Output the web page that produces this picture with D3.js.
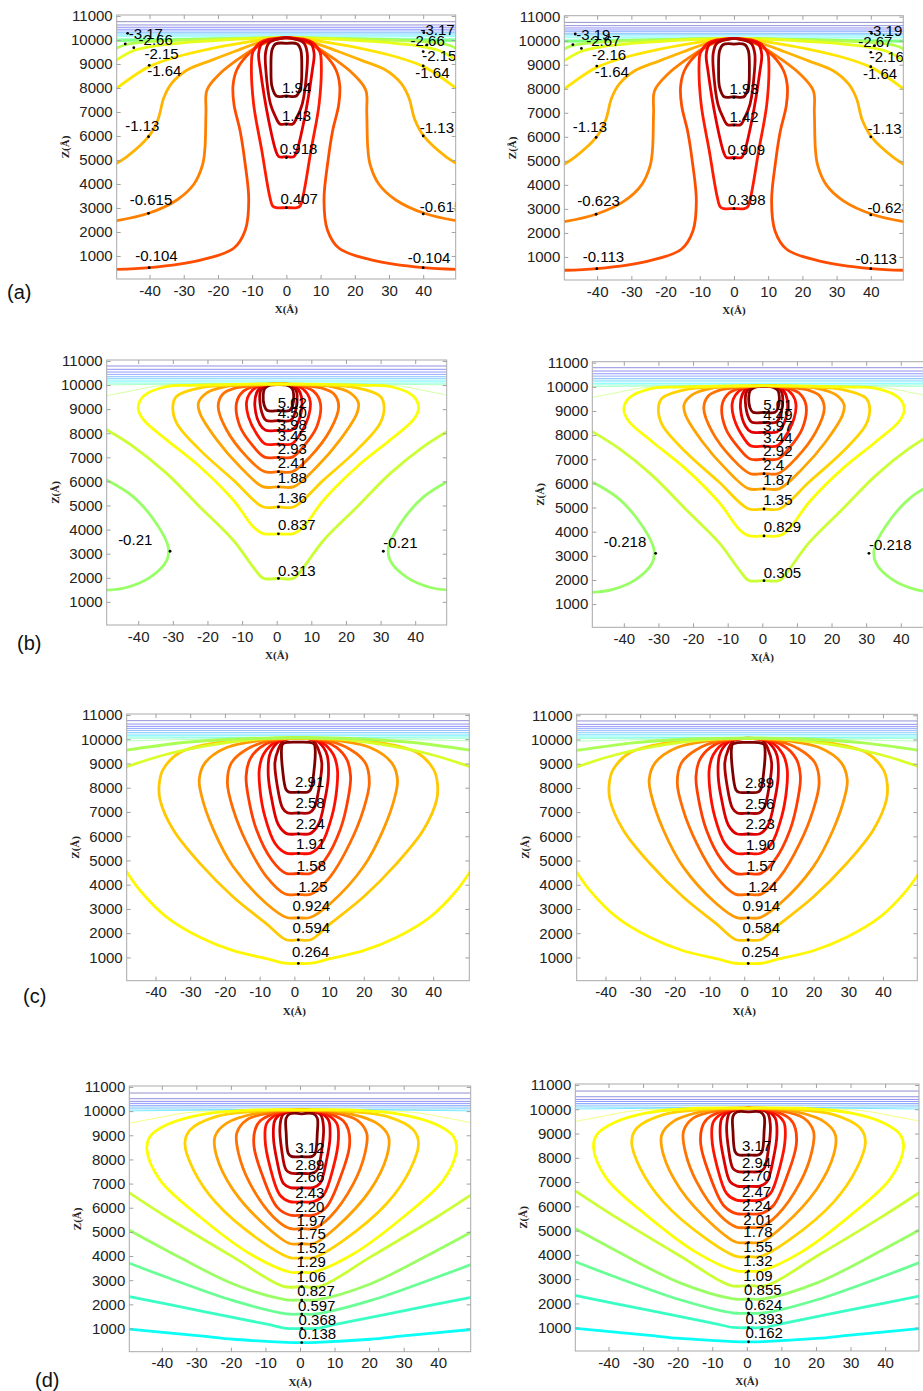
<!DOCTYPE html>
<html><head><meta charset="utf-8">
<script src="https://cdn.jsdelivr.net/npm/d3@7"></script>
<style>body{margin:0;background:#fff}svg{display:block}</style>
</head><body>
<svg id="fig" width="923" height="1391"></svg>
<script>
// ---------------- DATA ----------------
const X_TICKS = [-40,-30,-20,-10,0,10,20,30,40];
const Z_TICKS = [1000,2000,3000,4000,5000,6000,7000,8000,9000,10000,11000];
const ROW_TAGS = ["(a)","(b)","(c)","(d)"];
const Z_DOMAIN = [40, 11040];

// colour range of contour levels per row (min level, max level)
const LEVEL_RANGE_A = [-8.27, 1.94];
const LEVEL_RANGE_B = [-6.0, 5.02];
const LEVEL_RANGE_C = [-4.3, 2.91];
const LEVEL_RANGE_D = [-1.72, 3.12];
// x of symmetry axis of the contour family per row
const CENTER_A = 0, CENTER_B = 0.5, CENTER_C = 1.15, CENTER_D = 0.5;

// contours: level + left-half points [x, z] (edge/apex -> middle)
const CONTOURS_A = [
 {v:-3.17, pts:[[-49.6,9975],[-35,10005],[-20,10045],[-8,10080],[0,10100]]},
 {v:-2.66, pts:[[-49.6,9654],[-47.1,9800],[-40,9930],[-25,10020],[-10,10075],[0,10100]]},
 {v:-2.15, pts:[[-49.6,9167],[-44.6,9560],[-38,9760],[-25,9940],[-12,10050],[0,10100]]},
 {v:-1.64, pts:[[-49.6,7990],[-44,8560],[-40,8900],[-32,9300],[-22,9640],[-12,9900],[-5,10050],[0,10100]]},
 {v:-1.13, pts:[[-49.6,4860],[-46.6,5140],[-40.3,5972],[-37.5,6700],[-35.8,7600],[-33.5,8200],[-29,8750],[-22,9150],[-15,9530],[-8.6,9861],[-3,10050],[0,10100]]},
 {v:-0.615, pts:[[-49.6,2470],[-40.3,2778],[-32,3333],[-27,4000],[-24.5,4800],[-23.8,5500],[-23.5,7000],[-23.2,7917],[-19.3,8611],[-14.4,9167],[-7.6,9792],[-3,10030],[0,10100]]},
 {v:-0.104, pts:[[-49.6,445],[-40,514],[-25.1,830],[-15.4,1320],[-12,2083],[-11,3333],[-12.2,5000],[-13.5,6200],[-15.3,7300],[-15.6,8100],[-14.5,8750],[-11.5,9350],[-7,9850],[-2.5,10060],[0,10100]]},
 {v:0.407, pts:[[0,10100],[-5,10030],[-7.6,9900],[-9.8,9500],[-10.2,9027],[-9.6,7361],[-7.2,5400],[-4.9,3500],[-4.0,3080],[-3.0,3013],[0,3013]]},
 {v:0.918, pts:[[0,10100],[-4.5,10000],[-7.1,9861],[-8.1,9444],[-7.6,8750],[-5.2,6666],[-3.0,5347],[-2.2,5138],[0,5138]]},
 {v:1.43, pts:[[0,10100],[-3.5,10000],[-5.2,9861],[-6.1,9444],[-6.0,8750],[-4.7,7361],[-3.2,6805],[-1.9,6500],[0,6500]]},
 {v:1.94, pts:[[0,9861],[-3.2,9833],[-4.2,9583],[-4.5,8750],[-4.2,8055],[-2.9,7667],[0,7667]]}
];
const CONTOURS_B = [
 {v:5.02, pts:[[0.5,10020],[-2.0,9990],[-3.5,9850],[-3.9,9600],[-3.6,9150],[-2.7,8945],[0.5,8938]]},
 {v:4.50, pts:[[0.5,10050],[-3.2,9990],[-4.6,9780],[-4.9,9398],[-3.9,8702],[-3.0,8528],[0.5,8520]]},
 {v:3.98, pts:[[0.5,10050],[-4.2,9975],[-5.8,9676],[-6.3,9120],[-4.8,8353],[-3.2,8125],[0.5,8117]]},
 {v:3.45, pts:[[0.5,10050],[-5.2,9960],[-7.8,9650],[-8.7,9300],[-8.2,8702],[-5.3,7866],[-3.3,7553],[0.5,7545]]},
 {v:2.93, pts:[[0.5,10050],[-6.2,9950],[-9.6,9746],[-11.6,9259],[-10.6,8284],[-6.7,7448],[-3.5,7010],[0.5,7002]]},
 {v:2.41, pts:[[0.5,10050],[-7.5,9960],[-12.5,9850],[-15.6,9620],[-16.9,9120],[-14.5,8144],[-8.7,7030],[-3.6,6411],[0.5,6403]]},
 {v:1.88, pts:[[0.5,10050],[-9,9995],[-14.5,9950],[-20.2,9676],[-22.6,9259],[-22.2,8841],[-17.3,7726],[-10.6,6612],[-4,5784],[0.5,5776]]},
 {v:1.36, pts:[[0.5,10050],[-10,10015],[-22.2,9885],[-28.9,9537],[-30,9120],[-28.9,8423],[-22.2,7309],[-12.5,6055],[-4,4948],[0.5,4940]]},
 {v:0.837, pts:[[0.5,10050],[-12,10030],[-24,9990],[-31.8,9940],[-38.5,9537],[-40,9050],[-38.5,8562],[-31.8,7726],[-22.2,6612],[-12.5,5219],[-6.7,4104],[-3.9,3834],[0.5,3826]]},
 {v:0.313, pts:[[-49.1,8144],[-41.4,7448],[-31.8,6333],[-22.2,4940],[-12.5,3547],[-6.3,2350],[-3.9,1981],[0.5,1973]]}
];
const CONTOURS_C = [
 {v:2.91, pts:[[1.15,9880],[-2.0,9870],[-3.4,9800],[-3.7,9587],[-3.4,8756],[-2.4,7925],[-1.5,7820],[1.15,7815]]},
 {v:2.58, pts:[[1.15,10050],[-3,9960],[-4.6,9587],[-5.6,9033],[-4.9,8064],[-3.4,7164],[-2,6966],[1.15,6956]]},
 {v:2.24, pts:[[1.15,10050],[-4,9950],[-6.1,9657],[-7.2,9310],[-7.5,8479],[-6.5,7510],[-4.6,6471],[-2.2,6107],[1.15,6097]]},
 {v:1.91, pts:[[1.15,10050],[-5,9930],[-8.9,9380],[-10.1,8756],[-9.9,7925],[-8.5,6817],[-5.6,5709],[-2.4,5304],[1.15,5294]]},
 {v:1.58, pts:[[1.15,10050],[-6,9930],[-9.9,9657],[-12.8,9172],[-13.9,8479],[-13.3,7648],[-10.9,6263],[-6.5,5017],[-2.5,4473],[1.15,4463]]},
 {v:1.25, pts:[[1.15,10050],[-7,9950],[-13.7,9587],[-18.1,9033],[-19.3,8202],[-17.6,7094],[-13.7,5709],[-8,4324],[-2.6,3614],[1.15,3604]]},
 {v:0.924, pts:[[1.15,10050],[-8,9980],[-19.5,9657],[-25.7,9033],[-27.4,8341],[-26.7,7648],[-23.3,6263],[-17.6,4740],[-8,3216],[-2.2,2645],[1.15,2635]]},
 {v:0.594, pts:[[1.15,10050],[-10,10000],[-22.4,9864],[-33,9449],[-37.8,8756],[-38.9,8202],[-38.7,7510],[-34.9,6263],[-27.2,4878],[-17.6,3493],[-8,2385],[-2.4,1730],[1.15,1720]]},
 {v:0.264, pts:[[-48.3,4532],[-44.5,3770],[-36.8,2662],[-27.2,1831],[-17.6,1277],[-8,950],[-2.7,761],[1.15,751]]},
 {v:-0.066, pts:[[-48.3,8867],[-36.8,9380],[-22.4,9795],[-10,10010],[1.15,10060]]},
 {v:-0.396, pts:[[-48.3,9546],[-32,9864],[-15,10020],[1.15,10060]]}
];
const CONTOURS_D = [
 {v:3.12, pts:[[0.5,9890],[-2.9,9890],[-4,9710],[-4,9086],[-3.4,8254],[-2.5,8125],[0.5,8115]]},
 {v:2.89, pts:[[0.5,10050],[-3.5,9960],[-5,9849],[-5.8,9363],[-5.3,8392],[-4,7560],[-2.6,7432],[0.5,7422]]},
 {v:2.66, pts:[[0.5,10050],[-4.5,9950],[-7.2,9641],[-7.7,8947],[-6.7,7977],[-4.8,7006],[-2.8,6835],[0.5,6825]]},
 {v:2.43, pts:[[0.5,10050],[-5.5,9940],[-9.6,9502],[-10.1,8808],[-8.7,7699],[-5.8,6520],[-3,6253],[0.5,6243]]},
 {v:2.20, pts:[[0.5,10050],[-6.5,9940],[-11.5,9600],[-13,9225],[-13.3,8531],[-11.1,7422],[-6.7,6035],[-3,5698],[0.5,5688]]},
 {v:1.97, pts:[[0.5,10050],[-8,9950],[-15.4,9641],[-18.3,9086],[-17.8,8254],[-14.5,7006],[-7.7,5618],[-3,5143],[0.5,5133]]},
 {v:1.75, pts:[[0.5,10050],[-10,9980],[-21.2,9502],[-24.6,8947],[-24.1,8115],[-19.3,6728],[-9.6,5203],[-3,4519],[0.5,4509]]},
 {v:1.52, pts:[[0.5,10050],[-12,10000],[-24.1,9780],[-31.8,9225],[-33.3,8670],[-30.8,7560],[-24.1,6173],[-11.6,4648],[-3,3936],[0.5,3926]]},
 {v:1.29, pts:[[0.5,10050],[-14.5,10040],[-28.9,9849],[-38.6,9433],[-43.4,8947],[-44.3,8392],[-40.5,7144],[-28.9,5618],[-14.5,4093],[-3,3340],[0.5,3330]]},
 {v:1.06, pts:[[-49.4,6617],[-38.6,5618],[-19.3,3954],[-4.8,2744],[0.5,2734]]},
 {v:0.827, pts:[[-49.4,5064],[-38.6,4232],[-19.3,2845],[-3.9,2189],[0.5,2179]]},
 {v:0.597, pts:[[-49.4,3704],[-38.6,3122],[-19.3,2151],[-3.9,1606],[0.5,1596]]},
 {v:0.368, pts:[[-49.4,2318],[-28.9,1735],[-9.6,1180],[-3.9,1010],[0.5,1000]]},
 {v:0.138, pts:[[-49.4,972],[-28.9,694],[-19.3,556],[-3.9,427],[0.5,417]]}
];
// separate side loops (left one; right one is its mirror)
const SIDES_A = [], SIDES_C = [], SIDES_D = [];
const SIDES_B = [
 {v:-0.21, pts:[[-49.1,6055],[-41.4,5358],[-34.7,4244],[-31.3,3269],[-31.8,2712],[-36.6,2015],[-43.4,1597],[-49.1,1486]]}
];
// thin horizontal contour lines near the top: [z, level]
const THIN_H_A = [[10762,-8.27],[10625,-7.76],[10529,-7.25],[10445,-6.74],[10375,-6.23],[10304,-5.72],[10250,-5.21],[10196,-4.70],[10138,-4.19]];
const THIN_H_B = [[10791,-5.44],[10653,-4.92],[10541,-4.40],[10443,-3.87],[10347,-3.35],[10276,-2.83],[10206,-2.30],[10139,-1.78]];
const THIN_H_C = [[10765,-4.026],[10626,-3.696],[10529,-3.366],[10446,-3.036],[10363,-2.706],[10280,-2.376],[10211,-2.046],[10150,-1.716]];
const THIN_H_D = [[10750,-1.702],[10515,-1.472],[10404,-1.242],[10320,-1.012],[10237,-0.782],[10168,-0.552]];
// thin fan lines converging at the apex (left half)
const FANS_A = [
 {v:-3.68, pts:[[-49.6,10060],[-30,10070],[-12,10088],[0,10100]]}
];
const FANS_B = [
 {v:-1.256, pts:[[-49.1,10080],[-20,10078],[0.5,10080]]},
 {v:-0.733, pts:[[-49.1,10010],[-30,10035],[-10,10062],[0.5,10070]]},
 {v:0.05, pts:[[-49.1,9560],[-42,9760],[-35,9950],[-25,10030],[0.5,10065]]}
];
const FANS_C = [
 {v:-1.386, pts:[[-48.3,10095],[-20,10085],[1.15,10075]]},
 {v:-1.056, pts:[[-48.3,10035],[-25,10052],[1.15,10066]]},
 {v:-0.726, pts:[[-48.3,9930],[-30,9990],[-12,10040],[1.15,10060]]}
];
const FANS_D = [
 {v:-0.322, pts:[[-49.4,10095],[-20,10082],[0.5,10075]]},
 {v:-0.092, pts:[[-49.4,10010],[-25,10042],[0.5,10065]]},
 {v:1.2, pts:[[-49.4,9500],[-42,9700],[-33,9930],[-20,10030],[0.5,10060]]}
];
// contour labels: [markerX, markerZ, textLeftX, textCenterZ]
const LABEL_POS_A = [
 [-46.4,10278,-46.1,10278],[-47.1,9833,-43.2,10028],[-44.6,9680,-41.5,9444],[-40.1,8944,-40.7,8722],
 [-40.3,5972,-47.1,6430],[-40.3,2777,-45.8,3360],[-40.1,513,-44.2,1000],
 [0,7639,-1.3,8014],[0,6486,-1.3,6847],[0,5097,-1.9,5458],[0,3013,-1.75,3402],
 [40.2,10305,39.2,10417],[41.1,9792,36.3,9972],[40,9514,39.7,9347],[40,8917,37.7,8653],
 [40,6000,39.0,6347],[40,2750,39.0,3055],[40,513,35.5,944]
];
const LABELS_A_LEFT  = ["-3.17","-2.66","-2.15","-1.64","-1.13","-0.615","-0.104","1.94","1.43","0.918","0.407","-3.17","-2.66","-2.15","-1.64","-1.13","-0.615","-0.104"];
const LABELS_A_RIGHT = ["-3.19","-2.67","-2.16","-1.64","-1.13","-0.623","-0.113","1.93","1.42","0.909","0.398","-3.19","-2.67","-2.16","-1.64","-1.13","-0.623","-0.113"];
const LABEL_POS_B = [
 [0.5,8938,0.3,9287],[0.5,8520,0.3,8841],[0.5,8117,0.3,8381],[0.5,7545,0.3,7894],[0.5,7002,0.3,7378],
 [0.5,6403,0.3,6793],[0.5,5776,0.3,6152],[0.5,4940,0.3,5316],[0.5,3826,0.4,4202],[0.5,1973,0.4,2322],
 [-30.8,3102,-45.8,3603],[30.8,3102,30.8,3450]
];
const LABELS_B_LEFT  = ["5.02","4.50","3.98","3.45","2.93","2.41","1.88","1.36","0.837","0.313","-0.21","-0.21"];
const LABELS_B_RIGHT = ["5.01","4.49","3.97","3.44","2.92","2.4","1.87","1.35","0.829","0.305","-0.218","-0.218"];
const LABEL_POS_C = [
 [1.15,7815,0.2,8244],[1.15,6956,0.3,7371],[1.15,6097,0.4,6513],[1.15,5294,0.5,5682],[1.15,4463,0.7,4809],
 [1.15,3604,1.15,3937],[1.15,2635,-0.5,3147],[1.15,1720,-0.5,2219],[1.15,751,-0.7,1250]
];
const LABELS_C_LEFT  = ["2.91","2.58","2.24","1.91","1.58","1.25","0.924","0.594","0.264"];
const LABELS_C_RIGHT = ["2.89","2.56","2.23","1.90","1.57","1.24","0.914","0.584","0.254"];
const LABEL_POS_D = [
 [0.5,8115,-1.4,8503],[0.5,7422,-1.4,7810],[0.5,6825,-1.4,7283],[0.5,6243,-1.4,6631],[0.5,5688,-1.4,6035],
 [0.5,5133,-1.0,5453],[0.5,4509,-1.0,4953],[0.5,3926,-1.0,4342],[0.5,3330,-1.0,3774],[0.5,2734,-1.0,3150],
 [0.5,2179,-0.8,2567],[0.5,1596,-0.6,1971],[0.5,1000,-0.4,1388],[0.5,417,-0.4,792]
];
const LABELS_D_LEFT  = ["3.12","2.89","2.66","2.43","2.20","1.97","1.75","1.52","1.29","1.06","0.827","0.597","0.368","0.138"];
const LABELS_D_RIGHT = ["3.17","2.94","2.70","2.47","2.24","2.01","1.78","1.55","1.32","1.09","0.855","0.624","0.393","0.162"];

// ---------------- RENDER ----------------
const ROWS = [
 {range:LEVEL_RANGE_A, cx:CENTER_A, contours:CONTOURS_A, sides:SIDES_A, thinH:THIN_H_A, fans:FANS_A, labelPos:LABEL_POS_A},
 {range:LEVEL_RANGE_B, cx:CENTER_B, contours:CONTOURS_B, sides:SIDES_B, thinH:THIN_H_B, fans:FANS_B, labelPos:LABEL_POS_B},
 {range:LEVEL_RANGE_C, cx:CENTER_C, contours:CONTOURS_C, sides:SIDES_C, thinH:THIN_H_C, fans:FANS_C, labelPos:LABEL_POS_C},
 {range:LEVEL_RANGE_D, cx:CENTER_D, contours:CONTOURS_D, sides:SIDES_D, thinH:THIN_H_D, fans:FANS_D, labelPos:LABEL_POS_D}
];
const PANELS = [
 {row:0, texts:LABELS_A_LEFT,  left:116.7, top:15,    w:339,   h:264,   xd:[-49.6,49.5], tag:[7,299]},
 {row:0, texts:LABELS_A_RIGHT, left:564.3, top:15.7,  w:339,   h:264.3, xd:[-49.6,49.5]},
 {row:1, texts:LABELS_B_LEFT,  left:106.7, top:360,   w:340,   h:265,   xd:[-49.1,49.1], tag:[17,650]},
 {row:1, texts:LABELS_B_RIGHT, left:592.3, top:361.7, w:340,   h:265.6, xd:[-49.1,49.1]},
 {row:2, texts:LABELS_C_LEFT,  left:126.7, top:714,   w:342.6, h:266.7, xd:[-48.3,50.4], tag:[23,1003]},
 {row:2, texts:LABELS_C_RIGHT, left:576.7, top:714.3, w:340.6, h:266.4, xd:[-48.3,49.9]},
 {row:3, texts:LABELS_D_LEFT,  left:129.3, top:1086,  w:341.4, h:265.7, xd:[-49.4,49.4], tag:[35,1387]},
 {row:3, texts:LABELS_D_RIGHT, left:575.3, top:1084,  w:343.7, h:267,   xd:[-49.6,49.8]}
];

const SANS = '"Liberation Sans", Arial, Helvetica, sans-serif';
const SERIF = '"Liberation Serif", "Times New Roman", serif';
const svg = d3.select('#fig');
const jet = d3.scaleLinear()
  .domain([0,0.125,0.375,0.625,0.875,1])
  .range(["#00007f","#0000ff","#00ffff","#ffff00","#ff0000","#7f0000"])
  .clamp(true);

PANELS.forEach((p, i) => {
  const row = ROWS[p.row];
  const cx = row.cx;
  const xs = d3.scaleLinear().domain(p.xd).range([p.left, p.left + p.w]);
  const zs = d3.scaleLinear().domain(Z_DOMAIN).range([p.top + p.h, p.top]);
  const tScale = d3.scaleLinear().domain(row.range).range([0,1]).clamp(true);
  const color = v => jet(tScale(v));
  const line = d3.line().x(d => xs(d[0])).y(d => zs(d[1])).curve(d3.curveCatmullRom.alpha(0.5));
  const mirror = q => [2*cx - q[0], q[1]];
  const full = pts => pts.concat(pts.slice(0, -1).reverse().map(mirror));

  svg.append('clipPath').attr('id', 'clip' + i)
    .append('rect').attr('x', p.left).attr('y', p.top).attr('width', p.w).attr('height', p.h);
  const g = svg.append('g').attr('clip-path', `url(#clip${i})`);

  // thin horizontal lines
  g.selectAll('line.th').data(row.thinH).join('line').attr('class','th')
    .attr('x1', xs(p.xd[0])).attr('x2', xs(p.xd[1]))
    .attr('y1', d => zs(d[0])).attr('y2', d => zs(d[0]))
    .attr('stroke', d => color(d[1])).attr('stroke-width', 0.8).attr('stroke-opacity', 0.55);
  // thin fans
  g.selectAll('path.fan').data(row.fans).join('path').attr('class','fan')
    .attr('d', d => line(full(d.pts))).attr('fill','none')
    .attr('stroke', d => color(d.v)).attr('stroke-width', 0.9).attr('stroke-opacity', 0.6);
  // thick contours
  g.selectAll('path.ct').data(row.contours).join('path').attr('class','ct')
    .attr('d', d => line(full(d.pts))).attr('fill','none')
    .attr('stroke', d => color(d.v)).attr('stroke-width', 2.8)
    .attr('stroke-linejoin','round').attr('stroke-linecap','round');
  // side loops
  row.sides.forEach(s => {
    [s.pts, s.pts.map(mirror)].forEach(pts => {
      g.append('path').attr('d', line(pts)).attr('fill','none')
        .attr('stroke', color(s.v)).attr('stroke-width', 2.8).attr('stroke-linecap','round');
    });
  });
  // label markers and texts
  g.selectAll('circle.mk').data(row.labelPos).join('circle').attr('class','mk')
    .attr('cx', d => xs(d[0])).attr('cy', d => zs(d[1])).attr('r', 1.4).attr('fill', '#000');
  g.selectAll('text.lb').data(row.labelPos).join('text').attr('class','lb')
    .attr('x', d => xs(d[2])).attr('y', d => zs(d[3]))
    .attr('dominant-baseline','central')
    .attr('font-family', SANS).attr('font-size', 15).attr('fill', '#000')
    .text((d, j) => p.texts[j]);

  // box
  svg.append('rect').attr('x', p.left).attr('y', p.top).attr('width', p.w).attr('height', p.h)
    .attr('fill','none').attr('stroke','#a9a9a9').attr('stroke-width',1);

  const styleAxis = a => {
    a.select('.domain').remove();
    a.attr('font-family', SANS).attr('font-size', 15);
    a.selectAll('.tick line').attr('stroke', '#a0a0a0');
    a.selectAll('.tick text').attr('fill', '#222');
  };
  const fmt = d => String(d);
  svg.append('g').attr('transform', `translate(0,${p.top + p.h})`)
    .call(d3.axisBottom(xs).tickValues(X_TICKS).tickSize(-4).tickPadding(6).tickFormat(fmt)).call(styleAxis);
  svg.append('g').attr('transform', `translate(0,${p.top})`)
    .call(d3.axisTop(xs).tickValues(X_TICKS).tickSize(-4).tickFormat('')).call(styleAxis);
  svg.append('g').attr('transform', `translate(${p.left},0)`)
    .call(d3.axisLeft(zs).tickValues(Z_TICKS).tickSize(-4).tickPadding(4).tickFormat(fmt)).call(styleAxis);
  svg.append('g').attr('transform', `translate(${p.left + p.w},0)`)
    .call(d3.axisRight(zs).tickValues(Z_TICKS).tickSize(-4).tickFormat('')).call(styleAxis);

  // axis titles
  svg.append('text').attr('x', xs(0)).attr('y', p.top + p.h + 30)
    .attr('text-anchor','middle').attr('dominant-baseline','central')
    .attr('font-family', SERIF).attr('font-weight','bold').attr('font-size', 11).attr('fill','#222')
    .text('X(Å)');
  const zx = p.left - 52, zy = p.top + p.h / 2;
  svg.append('text').attr('transform', `translate(${zx},${zy}) rotate(-90)`)
    .attr('text-anchor','middle').attr('dominant-baseline','central')
    .attr('font-family', SERIF).attr('font-weight','bold').attr('font-size', 11).attr('fill','#222')
    .text('Z(Å)');

  if (p.tag) {
    svg.append('text').attr('x', p.tag[0]).attr('y', p.tag[1])
      .attr('font-family', SANS).attr('font-size', 20).attr('fill', '#111')
      .text(ROW_TAGS[p.row]);
  }
});
</script>
</body></html>
